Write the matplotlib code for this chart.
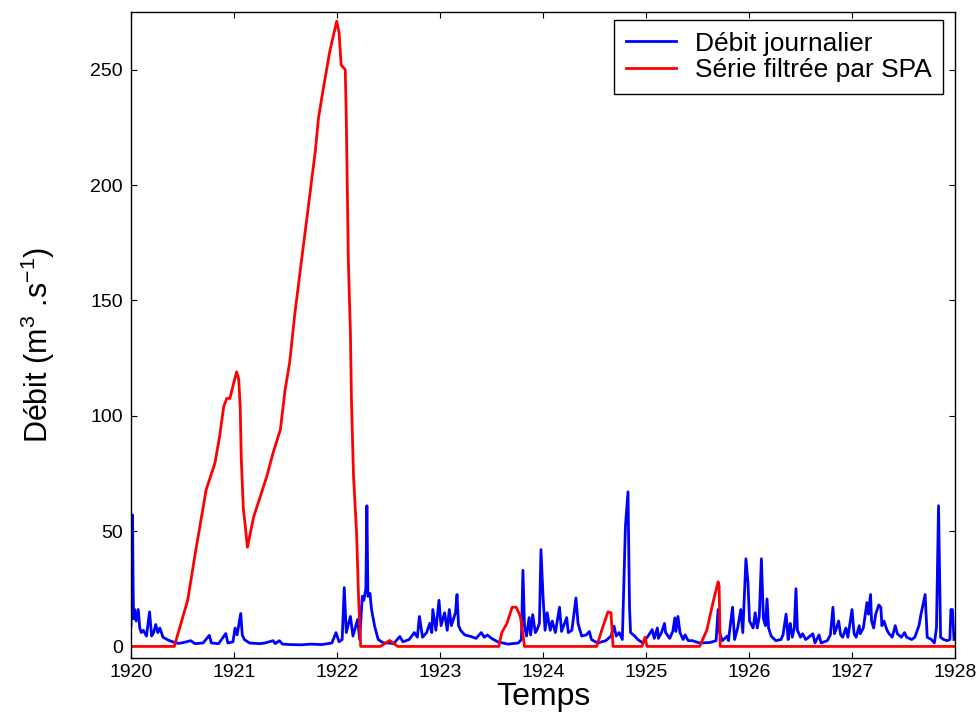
import matplotlib
matplotlib.use("Agg")
import matplotlib.pyplot as plt

plt.rcParams["font.family"] = ["Liberation Sans", "DejaVu Sans"]
plt.rcParams["mathtext.default"] = "regular"

# débit journalier
t_debit = [
    1920.000, 1920.008, 1920.015, 1920.020, 1920.025, 1920.036, 1920.05, 1920.07, 1920.085, 1920.10,
    1920.12, 1920.15, 1920.18, 1920.20, 1920.22, 1920.24, 1920.26, 1920.28, 1920.31, 1920.35,
    1920.39, 1920.46, 1920.52, 1920.58, 1920.62, 1920.70, 1920.76, 1920.78, 1920.85, 1920.92,
    1920.94, 1920.99, 1921.01, 1921.03, 1921.065, 1921.08, 1921.10, 1921.15, 1921.25, 1921.30,
    1921.38, 1921.40, 1921.44, 1921.47, 1921.55, 1921.65, 1921.75, 1921.85, 1921.95, 1921.99,
    1922.02, 1922.05, 1922.07, 1922.09, 1922.13, 1922.155, 1922.20, 1922.22, 1922.245, 1922.26,
    1922.28, 1922.29, 1922.30, 1922.32, 1922.335, 1922.365, 1922.40, 1922.45, 1922.50, 1922.55,
    1922.61, 1922.64, 1922.70, 1922.75, 1922.78, 1922.80, 1922.83, 1922.87, 1922.90, 1922.92,
    1922.93, 1922.96, 1922.99, 1923.01, 1923.045, 1923.07, 1923.09, 1923.11, 1923.15, 1923.165,
    1923.18, 1923.20, 1923.24, 1923.30, 1923.35, 1923.40, 1923.43, 1923.46, 1923.50, 1923.56,
    1923.66, 1923.76, 1923.79, 1923.805, 1923.82, 1923.84, 1923.865, 1923.88, 1923.90, 1923.925,
    1923.94, 1923.965, 1923.98, 1924.00, 1924.02, 1924.04, 1924.07, 1924.09, 1924.12, 1924.16,
    1924.18, 1924.23, 1924.245, 1924.28, 1924.32, 1924.34, 1924.375, 1924.42, 1924.45, 1924.47,
    1924.53, 1924.61, 1924.66, 1924.69, 1924.71, 1924.74, 1924.77, 1924.80, 1924.825, 1924.84,
    1924.85, 1924.89, 1924.92, 1924.97, 1925.02, 1925.06, 1925.08, 1925.11, 1925.12, 1925.15,
    1925.18, 1925.19, 1925.23, 1925.26, 1925.28, 1925.29, 1925.31, 1925.33, 1925.36, 1925.38,
    1925.41, 1925.45, 1925.52, 1925.62, 1925.68, 1925.70, 1925.715, 1925.74, 1925.79, 1925.80,
    1925.84, 1925.86, 1925.89, 1925.92, 1925.94, 1925.97, 1925.99, 1926.005, 1926.04, 1926.06,
    1926.08, 1926.10, 1926.12, 1926.14, 1926.16, 1926.175, 1926.19, 1926.215, 1926.26, 1926.31,
    1926.33, 1926.36, 1926.38, 1926.39, 1926.40, 1926.42, 1926.44, 1926.456, 1926.47, 1926.50,
    1926.52, 1926.55, 1926.58, 1926.62, 1926.64, 1926.68, 1926.70, 1926.76, 1926.79, 1926.815,
    1926.83, 1926.85, 1926.87, 1926.89, 1926.91, 1926.94, 1926.96, 1927.00, 1927.02, 1927.04,
    1927.07, 1927.08, 1927.11, 1927.145, 1927.16, 1927.18, 1927.19, 1927.21, 1927.23, 1927.26,
    1927.28, 1927.29, 1927.31, 1927.34, 1927.36, 1927.39, 1927.42, 1927.44, 1927.48, 1927.51,
    1927.53, 1927.58, 1927.61, 1927.65, 1927.67, 1927.71, 1927.73, 1927.77, 1927.80, 1927.82,
    1927.84, 1927.855, 1927.86, 1927.89, 1927.925, 1927.95, 1927.96, 1927.975, 1927.99,
]
q_debit = [
    9, 30, 57, 27, 12, 16, 11, 16, 8, 6,
    7, 4.5, 15, 4.5, 6, 9.5, 6, 8, 4, 3,
    2.2, 1.3, 1.8, 2.5, 1.2, 1.5, 4.8, 1.5, 1.2, 5.6,
    1.5, 2, 8, 5, 14.3, 5, 3, 1.5, 1.2, 1.5,
    2.5, 1.2, 2.5, 1.0, 0.8, 0.7, 1.0, 0.8, 1.5, 6,
    2, 3, 25.5, 6, 13, 4.5, 11.7, 3, 21.7, 20,
    25, 61, 21.7, 23, 16, 8.8, 3, 1.5, 1.5, 1.2,
    4.3, 2, 3, 6, 4, 13, 4, 6, 10, 6,
    16, 7, 20, 9, 14.6, 7, 16, 9, 14.6, 22.5,
    9, 7, 5, 4.3, 3.5, 6, 4, 5, 3.5, 2,
    1, 1.5, 3, 33, 9, 4.5, 12.5, 5, 13.8, 6,
    7, 10, 42, 21.7, 7, 14.6, 7, 11, 6, 17,
    6.5, 12.5, 6, 7, 21, 10, 4.5, 5, 6.5, 3,
    1.5, 2.5, 4.5, 8.8, 4.5, 6, 3, 52, 67, 17,
    6, 4.5, 3, 1.5, 4.5, 7.3, 3.5, 8, 3.5, 6,
    10, 6, 3.5, 6.5, 12.4, 6.5, 13, 6, 3, 5,
    2.5, 2.5, 1.5, 1.7, 2.5, 16, 6, 2.5, 4.5, 2.5,
    17, 3, 8, 16, 6, 38, 27.5, 11, 8, 14.6,
    8, 13, 38, 12, 9, 20.6, 8, 4.5, 2.5, 3,
    5, 14, 3, 7, 10, 4, 8, 25, 7, 4,
    5.5, 3, 4, 5.5, 1.5, 5, 1.5, 2.5, 5, 17,
    5.5, 8, 11, 5, 4, 8, 4, 16, 5.5, 4,
    9, 5.5, 8, 19, 14, 22.5, 11, 8, 14, 18,
    17, 9, 11, 7, 5.5, 4, 9, 5.5, 4, 6,
    4, 3, 4, 9, 14, 22.5, 4, 3, 1.5, 8,
    61, 20, 4, 3, 2.5, 3, 16, 16, 3,
]

# série filtrée par SPA
t_spa = [
    1920.00, 1920.42, 1920.55, 1920.63, 1920.73, 1920.815, 1920.86, 1920.90, 1920.93, 1920.96,
    1920.99, 1921.025, 1921.045, 1921.06, 1921.07, 1921.09, 1921.11, 1921.13, 1921.19, 1921.32,
    1921.38, 1921.45, 1921.495, 1921.54, 1921.59, 1921.66, 1921.72, 1921.79, 1921.82, 1921.86,
    1921.93, 1921.997, 1922.02, 1922.04, 1922.08, 1922.09, 1922.11, 1922.13, 1922.14, 1922.16,
    1922.19, 1922.21, 1922.23, 1922.42, 1922.51, 1922.59, 1923.57, 1923.60, 1923.65, 1923.70,
    1923.74, 1923.78, 1923.80, 1923.82, 1924.52, 1924.57, 1924.63, 1924.66, 1924.68, 1924.96,
    1924.99, 1925.01, 1925.52, 1925.59, 1925.65, 1925.70, 1925.71, 1925.72, 1928.00,
]
q_spa = [
    0, 0, 20, 42, 68, 79.5, 91, 104, 107.5, 107.5,
    113, 119, 116, 104, 82, 60, 52, 43, 56, 74,
    84, 94, 111, 123, 144, 169, 190, 215, 229, 240,
    258, 271, 266, 252, 250, 229, 167, 136, 107, 74,
    49, 20, 0, 0, 2.6, 0, 0, 6, 10, 17,
    17, 13, 7, 0, 0, 7, 15, 14.6, 0, 0,
    4, 0, 0, 7, 19, 28, 26, 0, 0,
]

fig = plt.figure(figsize=(9.8, 7.26), dpi=100)
ax = fig.add_axes([0.1337, 0.0937, 0.8408, 0.8898])

ax.plot(t_debit, q_debit, color="#0000ff", lw=2.0, label="Débit journalier")
ax.plot(t_spa, q_spa, color="#ff0000", lw=2.0, label="Série filtrée par SPA")

ax.set_xlim(1920, 1928)
ax.set_ylim(-5, 275)
ax.set_xticks(range(1920, 1929))
ax.set_yticks(range(0, 251, 50))
ax.tick_params(direction="in", top=True, right=True, length=4.5, labelsize=14)
ax.tick_params(axis="y", pad=6)
ax.tick_params(axis="x", pad=4)
for s in ax.spines.values():
    s.set_linewidth(1.0)

ax.set_xlabel("Temps", fontsize=23, labelpad=1)
ax.set_ylabel(r"Débit (m$^{3}$ .s$^{-1}$)", fontsize=22)
ax.yaxis.set_label_coords(-0.09, 0.485)

leg = ax.legend(loc="upper right", bbox_to_anchor=(0.986, 0.988), borderaxespad=0,
                fontsize=19, fancybox=False, framealpha=1, edgecolor="black",
                handlelength=1.9, handletextpad=0.7, borderpad=0.45, labelspacing=0.1)
leg.get_frame().set_linewidth(1.0)

fig.savefig("out.png", dpi=100)
